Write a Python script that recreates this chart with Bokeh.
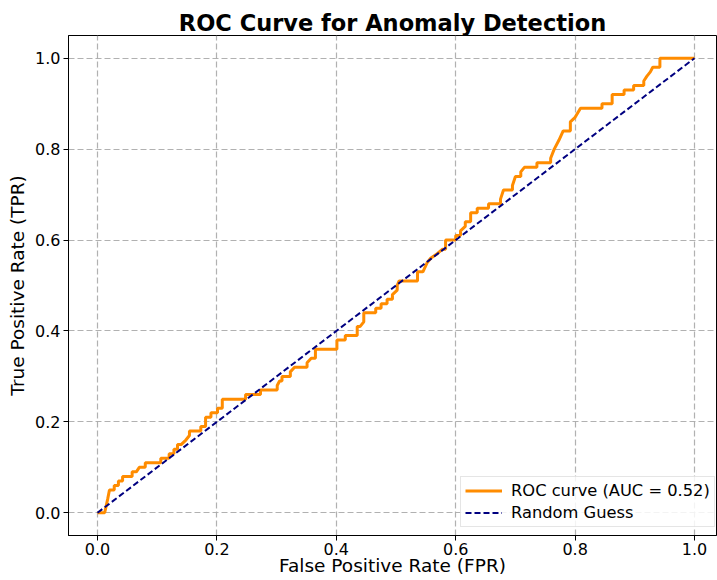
from bokeh.plotting import figure
from bokeh.embed import file_html
from bokeh.resources import INLINE
from bokeh.models import Range1d, FixedTicker, Legend, LegendItem

title = "ROC Curve for Anomaly Detection"
x_label = "False Positive Rate (FPR)"
y_label = "True Positive Rate (TPR)"
roc_label = "ROC curve (AUC = 0.52)"
rand_label = "Random Guess"
ticks = [0.0, 0.2, 0.4, 0.6, 0.8, 1.0]

fpr = [0.0, 0.012, 0.017, 0.02, 0.028, 0.028, 0.035, 0.035, 0.042, 0.042, 0.058, 0.058,
       0.065, 0.07, 0.08, 0.08, 0.106, 0.106, 0.12, 0.12, 0.128, 0.128, 0.134, 0.134,
       0.14, 0.148, 0.154, 0.154, 0.173, 0.173, 0.181, 0.181, 0.19, 0.19, 0.201, 0.201,
       0.209, 0.209, 0.248, 0.248, 0.273, 0.273, 0.301, 0.301, 0.305, 0.309, 0.309, 0.323,
       0.323, 0.33, 0.351, 0.351, 0.358, 0.365, 0.365, 0.401, 0.401, 0.415, 0.415, 0.435,
       0.435, 0.44, 0.446, 0.446, 0.466, 0.466, 0.475, 0.475, 0.485, 0.485, 0.494, 0.494,
       0.502, 0.502, 0.505, 0.536, 0.536, 0.545, 0.552, 0.558, 0.569, 0.578, 0.583, 0.583,
       0.6, 0.6, 0.608, 0.608, 0.616, 0.616, 0.625, 0.625, 0.636, 0.636, 0.655, 0.655,
       0.675, 0.675, 0.68, 0.695, 0.695, 0.7, 0.709, 0.709, 0.715, 0.736, 0.736, 0.759,
       0.759, 0.765, 0.773, 0.78, 0.792, 0.792, 0.8, 0.809, 0.845, 0.845, 0.862, 0.862,
       0.882, 0.882, 0.898, 0.898, 0.915, 0.915, 0.92, 0.926, 0.93, 0.942, 0.942, 1.0]
tpr = [0.0, 0.0, 0.03, 0.05, 0.05, 0.06, 0.06, 0.07, 0.07, 0.08, 0.08, 0.09,
       0.09, 0.10, 0.10, 0.11, 0.11, 0.12, 0.12, 0.13, 0.13, 0.14, 0.14, 0.15,
       0.15, 0.16, 0.17, 0.18, 0.18, 0.19, 0.19, 0.21, 0.21, 0.22, 0.22, 0.23,
       0.23, 0.25, 0.25, 0.26, 0.26, 0.27, 0.27, 0.28, 0.29, 0.29, 0.30, 0.30,
       0.31, 0.32, 0.32, 0.33, 0.34, 0.34, 0.36, 0.36, 0.38, 0.38, 0.39, 0.39,
       0.41, 0.41, 0.42, 0.44, 0.44, 0.45, 0.45, 0.46, 0.46, 0.47, 0.47, 0.48,
       0.49, 0.50, 0.51, 0.51, 0.53, 0.53, 0.55, 0.56, 0.57, 0.58, 0.58, 0.60,
       0.60, 0.61, 0.61, 0.62, 0.63, 0.64, 0.64, 0.66, 0.66, 0.67, 0.67, 0.68,
       0.68, 0.69, 0.71, 0.71, 0.72, 0.74, 0.74, 0.75, 0.76, 0.76, 0.77, 0.77,
       0.78, 0.80, 0.82, 0.84, 0.84, 0.86, 0.87, 0.89, 0.89, 0.90, 0.90, 0.92,
       0.92, 0.93, 0.93, 0.94, 0.94, 0.95, 0.96, 0.97, 0.98, 0.98, 1.0, 1.0]
diag_x = [0.0, 1.0]
diag_y = [0.0, 1.0]

FONT = "DejaVu Sans"

p = figure(width=717, height=580, output_backend="svg", toolbar_location=None,
           x_range=Range1d(-0.0486, 1.0368), y_range=Range1d(-0.05, 1.05),
           min_border_left=68, min_border_right=1, min_border_top=35, min_border_bottom=45)

p.title.text = title
p.title.align = "center"
p.title.text_font = FONT
p.title.text_font_size = "22.5px"
p.title.text_font_style = "bold"
p.title.text_color = "black"
p.title.standoff = 0
p.title.offset = 0

p.outline_line_color = "black"
p.outline_line_width = 1
p.background_fill_color = "white"
p.border_fill_color = "white"

for ax, lab in ((p.xaxis[0], x_label), (p.yaxis[0], y_label)):
    ax.axis_label = lab
    ax.axis_label_text_font = FONT
    ax.axis_label_text_font_size = "18.5px"
    ax.axis_label_text_font_style = "normal"
    ax.axis_label_text_color = "black"
    ax.major_label_text_font = FONT
    ax.major_label_text_font_size = "16px"
    ax.major_label_text_color = "black"
    ax.ticker = FixedTicker(ticks=ticks)
    ax.major_label_overrides = {t: f"{t:.1f}" for t in ticks}
    ax.minor_tick_line_color = None
    ax.major_tick_in = 0
    ax.major_tick_out = 5
    ax.axis_line_color = "black"
    ax.major_tick_line_color = "black"
    ax.major_label_standoff = 3

p.xaxis[0].major_label_standoff = 2
p.xaxis[0].axis_label_standoff = -3
p.yaxis[0].axis_label_standoff = 4

for g in (p.xgrid[0], p.ygrid[0]):
    g.ticker = FixedTicker(ticks=ticks)
    g.grid_line_color = "#a8a8a8"
    g.grid_line_dash = "6 3"
    g.grid_line_width = 1.2
    g.grid_line_alpha = 0.9

r_roc = p.line(fpr, tpr, line_color="#ff8c00", line_width=3)
r_diag = p.line(diag_x, diag_y, line_color="#000080", line_width=2, line_dash="6 3")

legend = Legend(items=[LegendItem(label=roc_label, renderers=[r_roc]),
                       LegendItem(label=rand_label, renderers=[r_diag])],
                location=(392, 8))
legend.label_text_font = FONT
legend.label_text_font_size = "16.3px"
legend.label_text_color = "black"
legend.glyph_width = 37
legend.glyph_height = 19
legend.spacing = 3
legend.padding = 4
legend.margin = 0
legend.label_standoff = 9
legend.border_line_color = "#cccccc"
legend.border_line_width = 1
legend.background_fill_alpha = 0.85
p.add_layout(legend)

open("out.html", "w").write(file_html(p, INLINE))
